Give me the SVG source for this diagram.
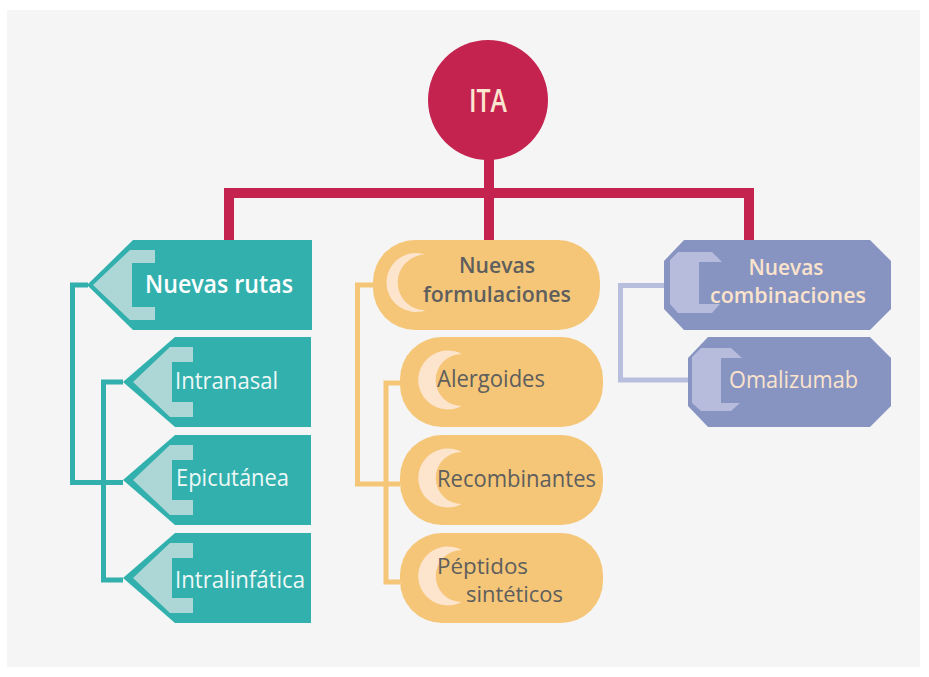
<svg xmlns="http://www.w3.org/2000/svg" width="929" height="677" viewBox="0 0 929 677">
<style>
text{font-family:"Open Sans","Noto Sans","DejaVu Sans",sans-serif}
.teal{fill:#32b0ae}.tealL{fill:#acd7d6}
.yel{fill:#f5c677}.yelL{fill:#fde4cd}
.pur{fill:#8794c2}.purL{fill:#b7bcdc}
.tw{fill:#eef8f6;font-size:24px}
.tb{fill:#ffffff;font-size:25px;font-weight:600}
.yt{fill:#5e5e5e;font-size:24px}
.yt2{fill:#5e5e5e;font-size:22px}
.yb{fill:#5e5e5e;font-size:22px;font-weight:600}
.pt{fill:#fbe3cc;font-size:24px}
.pb{fill:#fbe3cc;font-size:22px;font-weight:600}
.c{fill:none;stroke-width:5;stroke-linejoin:miter}
</style>
<rect x="0" y="0" width="929" height="677" fill="#ffffff"/>
<rect x="7" y="10" width="913" height="657" fill="#f5f5f5"/>

<g id="connectors">
  <path d="M489 150 V240 M229 240 V193 H749 V240" fill="none" stroke="#c42350" stroke-width="10"/>
  <path class="c" stroke="#32b0ae" d="M88 285 H72.5 V482.5 H123"/>
  <path class="c" stroke="#32b0ae" d="M123 382 H103.5 V580 H123"/>
  <path class="c" stroke="#f5c677" d="M374 285 H357.5 V484 H400"/>
  <path class="c" stroke="#f5c677" d="M400 383 H386 V582 H400"/>
  <path class="c" stroke="#b8bedd" d="M665 285.5 H620.5 V380 H689"/>
</g>

<g id="ita">
  <circle cx="488" cy="100" r="60" fill="#c42350"/>
  <text x="488" y="112" text-anchor="middle" fill="#fde6d0" font-size="33" font-weight="600" textLength="38" lengthAdjust="spacingAndGlyphs">ITA</text>
</g>

<g id="nuevas-rutas">
  <polygon class="teal" points="133,240 312,240 312,330 133,330 87,285"/>
  <polygon class="tealL" points="130,250 155,250 155,263 132,263 132,307 155,307 155,320 130,320 93,285"/>
  <text class="tb" x="145" y="293" textLength="148" lengthAdjust="spacingAndGlyphs">Nuevas rutas</text>
</g>
<g id="intranasal">
  <polygon class="teal" points="175,337 311,337 311,427 175,427 123,382"/>
  <polygon class="tealL" points="170,347 193,347 193,362 172,362 172,402 193,402 193,417 170,417 133,382"/>
  <text class="tw" x="175" y="389" textLength="103" lengthAdjust="spacingAndGlyphs">Intranasal</text>
</g>
<g id="epicutanea">
  <polygon class="teal" points="175,435 311,435 311,525 175,525 123,480"/>
  <polygon class="tealL" points="170,445 193,445 193,460 172,460 172,500 193,500 193,515 170,515 133,480"/>
  <text class="tw" x="176" y="486" textLength="113" lengthAdjust="spacingAndGlyphs">Epicutánea</text>
</g>
<g id="intralinfatica">
  <polygon class="teal" points="175,533 311,533 311,623 175,623 123,578"/>
  <polygon class="tealL" points="170,543 193,543 193,558 172,558 172,598 193,598 193,613 170,613 133,578"/>
  <text class="tw" x="175" y="588" textLength="130" lengthAdjust="spacingAndGlyphs">Intralinfática</text>
</g>

<g id="nuevas-formulaciones">
  <rect class="yel" x="373" y="240" width="227" height="90" rx="42"/>
  <path class="yelL" d="M425.6 254.6 A29.5 29.5 0 1 0 425.6 310.4 A25 25 0 1 1 425.6 254.6 Z"/>
  <text class="yb" x="497" y="273" text-anchor="middle" textLength="76" lengthAdjust="spacingAndGlyphs">Nuevas</text>
  <text class="yb" x="497" y="302" text-anchor="middle" textLength="148" lengthAdjust="spacingAndGlyphs">formulaciones</text>
</g>
<g id="alergoides">
  <rect class="yel" x="400" y="337" width="203" height="90" rx="42"/>
  <path class="yelL" d="M461.7 354 A29.5 29.5 0 1 0 461.7 406 A26 26 0 1 1 461.7 354 Z"/>
  <text class="yt" x="437" y="387" textLength="108" lengthAdjust="spacingAndGlyphs">Alergoides</text>
</g>
<g id="recombinantes">
  <rect class="yel" x="400" y="435" width="203" height="90" rx="42"/>
  <path class="yelL" d="M461.7 452 A29.5 29.5 0 1 0 461.7 504 A26 26 0 1 1 461.7 452 Z"/>
  <text class="yt" x="437" y="487" textLength="159" lengthAdjust="spacingAndGlyphs">Recombinantes</text>
</g>
<g id="peptidos">
  <rect class="yel" x="400" y="533" width="203" height="90" rx="42"/>
  <path class="yelL" d="M461.7 550 A29.5 29.5 0 1 0 461.7 602 A26 26 0 1 1 461.7 550 Z"/>
  <text class="yt2" x="437" y="574" textLength="91" lengthAdjust="spacingAndGlyphs">Péptidos</text>
  <text class="yt2" x="466" y="602" textLength="97" lengthAdjust="spacingAndGlyphs">sintéticos</text>
</g>

<g id="nuevas-combinaciones">
  <polygon class="pur" points="684,240 870,240 891,261 891,309 870,330 684,330 664,309 664,261"/>
  <polygon class="purL" points="678,252 712,252 722,262 699,262 699,304 720,304 712,313 678,313 670,304 670,260"/>
  <text class="pb" x="786" y="275" text-anchor="middle" textLength="75" lengthAdjust="spacingAndGlyphs">Nuevas</text>
  <text class="pb" x="788" y="303" text-anchor="middle" textLength="156" lengthAdjust="spacingAndGlyphs">combinaciones</text>
</g>
<g id="omalizumab">
  <polygon class="pur" points="708,337 870,337 891,358 891,406 870,427 708,427 688,406 688,358"/>
  <polygon class="purL" points="701,348 731,348 742,358 721,358 721,403 740,403 731,411 701,411 692,403 692,357"/>
  <text class="pt" x="729" y="388" textLength="129" lengthAdjust="spacingAndGlyphs">Omalizumab</text>
</g>
</svg>
